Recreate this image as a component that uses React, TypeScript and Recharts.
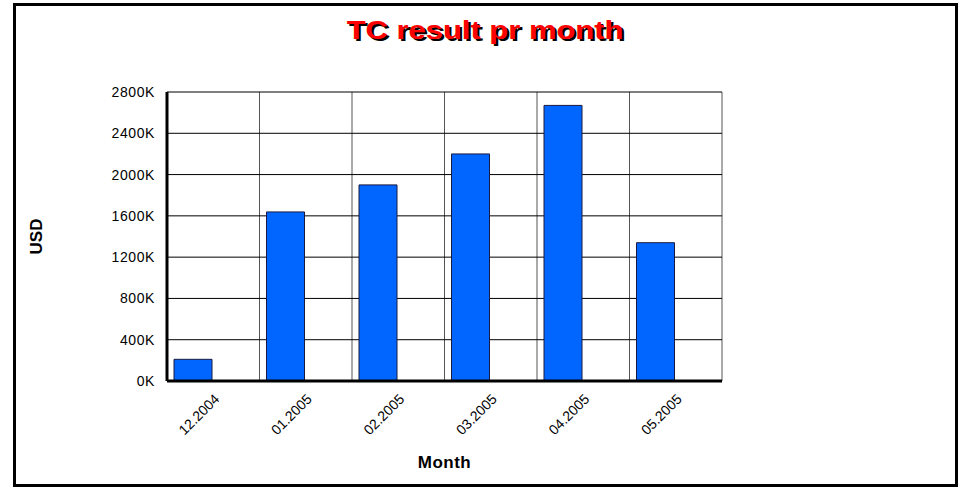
import { Bar, BarChart, CartesianGrid, Label, XAxis, YAxis } from "recharts";

const months = ["12.2004", "01.2005", "02.2005", "03.2005", "04.2005", "05.2005"];
const tcResult = [210000, 1638000, 1900000, 2200000, 2670000, 1340000];
// second slot in every month is empty in the original chart
const emptySlot = [null, null, null, null, null, null];
const yTicks = [0, 400000, 800000, 1200000, 1600000, 2000000, 2400000, 2800000];
const gridSlots = [0, 1, 2, 3, 4, 5, 6];

const data = months.map((month, i) => ({
  month,
  tc: tcResult[i],
  empty: emptySlot[i],
  slot: i
}));

const font = "'Liberation Sans', Arial, sans-serif";

export default function App() {
  return (
    <div style={{ position: "absolute", left: 0, top: 0, width: 962, height: 488, background: "#fff", fontFamily: font }}>
      <div
        style={{
          position: "absolute",
          left: 13,
          top: 3,
          width: 945,
          height: 484,
          border: "3px solid #000",
          boxSizing: "border-box"
        }}
      />
      <div
        style={{
          position: "absolute",
          left: 5,
          top: 17,
          width: 962,
          textAlign: "center",
          fontSize: 26,
          lineHeight: "26px",
          fontWeight: "bold",
          color: "#ff0000",
          textShadow: "2px 2px 0 #000",
          transform: "scaleX(1.19)",
          transformOrigin: "486px 0"
        }}
      >
        TC result pr month
      </div>
      <BarChart
        width={962}
        height={488}
        data={data}
        margin={{ top: 92, right: 240, bottom: 0, left: 0 }}
        barSize={38}
        barGap={3}
        style={{ position: "absolute", left: 0, top: 0 }}
      >
        <CartesianGrid xAxisId="grid" horizontal={false} stroke="#555" strokeOpacity={1} />
        <CartesianGrid vertical={false} stroke="#000" />
        <XAxis
          dataKey="month"
          height={107}
          interval={0}
          tickLine={false}
          tickSize={6}
          tickMargin={6}
          angle={-45}
          textAnchor="end"
          axisLine={{ stroke: "#000", strokeWidth: 3 }}
          tick={{ fill: "#000", fontSize: 14, fontFamily: font }}
        >
          <Label
            value="Month"
            position="insideBottom"
            offset={20}
            style={{ fill: "#000", fontSize: 17, fontWeight: "bold", fontFamily: font, letterSpacing: 0.5 }}
          />
        </XAxis>
        <XAxis xAxisId="grid" type="number" dataKey="slot" domain={[0, 6]} ticks={gridSlots} hide />
        <YAxis
          width={167}
          domain={[0, 2800000]}
          ticks={yTicks}
          tickLine={false}
          tickSize={6}
          tickMargin={6}
          axisLine={{ stroke: "#000", strokeWidth: 3 }}
          tickFormatter={(v: number) => `${v / 1000}K`}
          tick={{ fill: "#000", fontSize: 14, fontFamily: font, letterSpacing: 0.6 }}
        >
          <Label
            value="USD"
            angle={-90}
            position="insideLeft"
            offset={36}
            style={{ fill: "#000", fontSize: 17, fontWeight: "bold", fontFamily: font, textAnchor: "middle" }}
          />
        </YAxis>
        <Bar dataKey="tc" fill="#0066ff" stroke="#1a1a40" strokeWidth={1} isAnimationActive={false} />
        <Bar dataKey="empty" fill="none" isAnimationActive={false} />
      </BarChart>
    </div>
  );
}
